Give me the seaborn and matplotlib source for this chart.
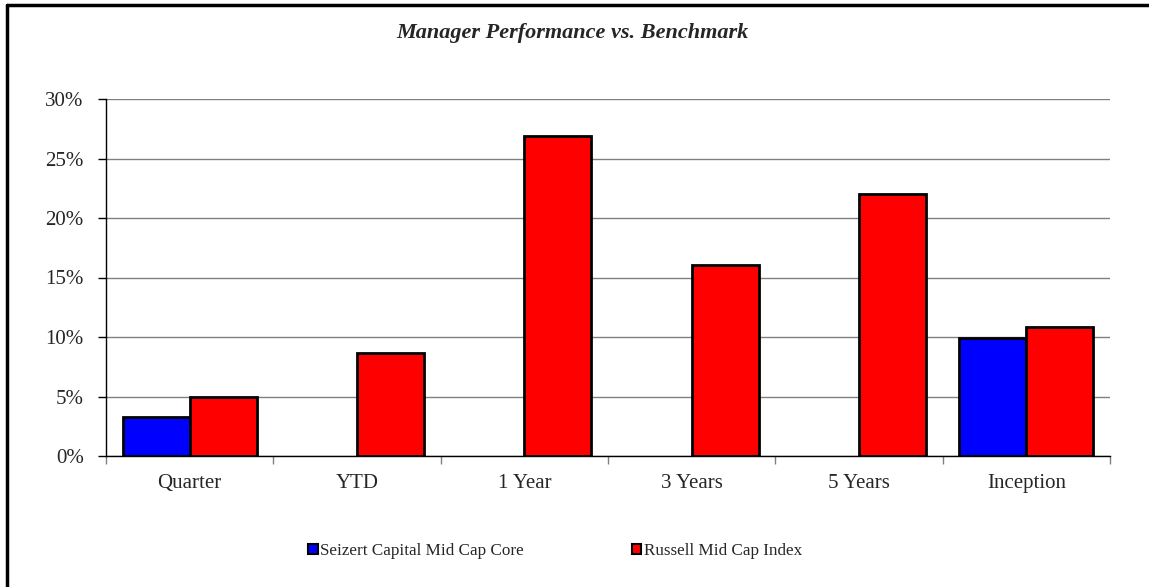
import numpy as np
import pandas as pd
import matplotlib
matplotlib.use("Agg")
import matplotlib.pyplot as plt
from matplotlib.patches import Patch
from matplotlib.lines import Line2D
from matplotlib.ticker import FuncFormatter, FixedLocator
import seaborn as sns

# ─── Data ───────────────────────────────────────────────────
periods = ["Quarter", "YTD", "1 Year", "3 Years", "5 Years", "Inception"]
series_names = ["Seizert Capital Mid Cap Core", "Russell Mid Cap Index"]
manager = [3.3, np.nan, np.nan, np.nan, np.nan, 9.9]
benchmark = [4.95, 8.65, 26.85, 16.05, 22.05, 10.8]
colors = ["#0000FF", "#FF0000"]

df = pd.DataFrame({
    "period": periods * 2,
    "series": [series_names[0]] * len(periods) + [series_names[1]] * len(periods),
    "value": manager + benchmark,
})

# ─── Style ──────────────────────────────────────────────────
sns.set_style("white")
plt.rcParams["font.family"] = ["Liberation Serif", "DejaVu Serif"]

fig = plt.figure(figsize=(11.49, 5.87), dpi=100)
ax = fig.add_axes([106 / 1149, 1 - 456 / 587, 1004 / 1149, 357 / 587])

sns.barplot(
    data=df, x="period", y="value", hue="series",
    order=periods, hue_order=series_names, palette=colors,
    width=0.8, edgecolor="black", linewidth=2, saturation=1,
    legend=False, ax=ax,
)

# y axis
ax.set_ylim(0, 30)
ax.set_yticks(np.arange(0, 31, 5))
ax.yaxis.set_major_formatter(FuncFormatter(lambda v, p: f"{v:.0f}%"))
ax.yaxis.grid(True, color="#808080", linewidth=1)
ax.set_axisbelow(True)
ax.tick_params(axis="y", left=True, length=6, width=1, pad=10,
               labelsize=15, color="black")

# x axis: labels centred, tick marks at category boundaries
ax.set_xlim(-0.5, len(periods) - 0.5)
ax.tick_params(axis="x", which="major", length=0, pad=13, labelsize=15)
ax.xaxis.set_minor_locator(FixedLocator(np.arange(-0.5, len(periods), 1)))
ax.tick_params(axis="x", which="minor", bottom=True, length=6, width=1,
               color="#808080")
ax.set_xlabel("")
ax.set_ylabel("")

for side in ["top", "right"]:
    ax.spines[side].set_visible(False)
for side in ["left", "bottom"]:
    ax.spines[side].set_color("black")
    ax.spines[side].set_linewidth(1)

# title
fig.text(572 / 1149, 1 - 33 / 587, "Manager Performance vs. Benchmark",
         ha="center", va="center", fontsize=16, fontweight="bold",
         fontstyle="italic")

# legend
handles = [Patch(facecolor=c, edgecolor="black", linewidth=1.5) for c in colors]
fig.legend(handles, series_names, loc="center",
           bbox_to_anchor=(555 / 1149, 1 - 551 / 587), ncol=2, frameon=False,
           fontsize=12.3, handlelength=0.55, handleheight=0.6,
           handletextpad=0.15, columnspacing=6.3)

# frame border (top and left edges visible)
fig.add_artist(Line2D([6.5 / 1149, 6.5 / 1149], [0, 1 - 4.5 / 587],
                      color="black", linewidth=2.5, transform=fig.transFigure))
fig.add_artist(Line2D([6.5 / 1149, 1], [1 - 4.5 / 587, 1 - 4.5 / 587],
                      color="black", linewidth=2.5, transform=fig.transFigure))

fig.savefig("out.png", dpi=100)
